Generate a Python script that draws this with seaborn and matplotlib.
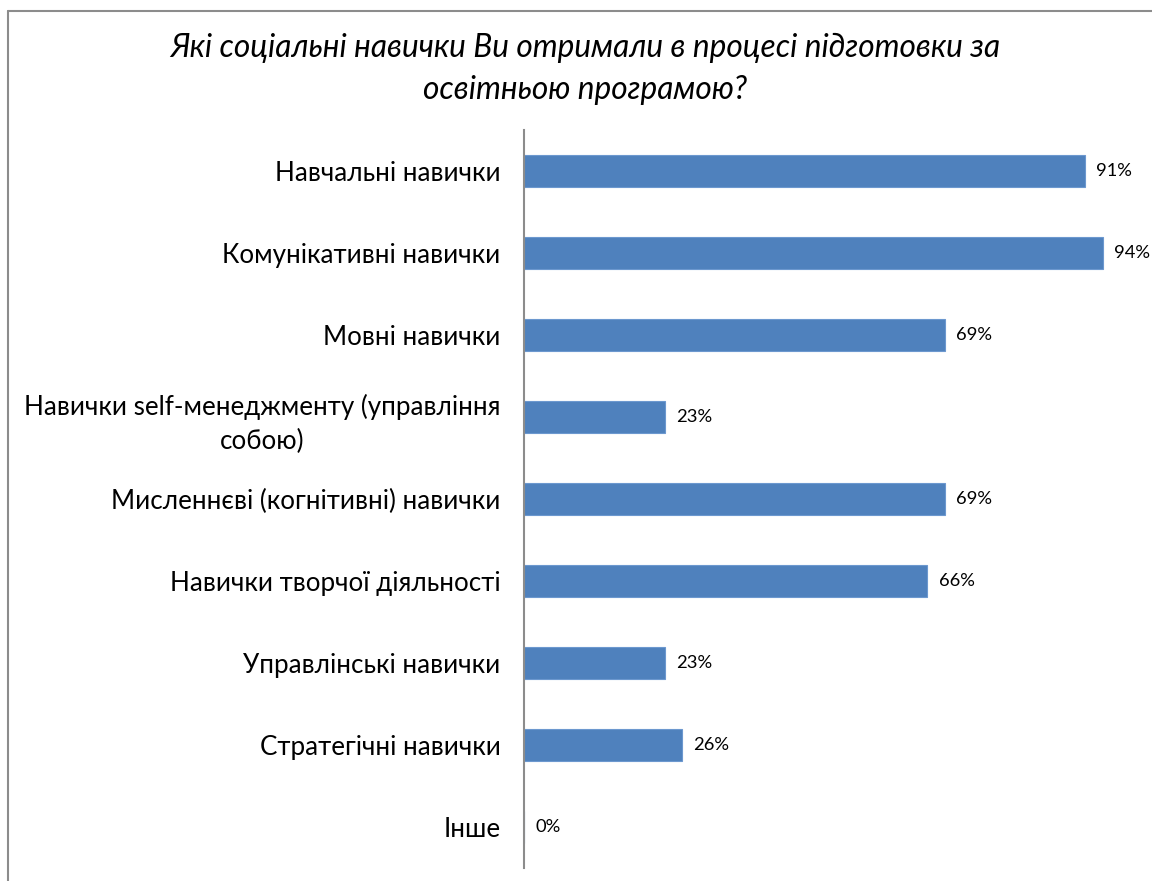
import matplotlib
matplotlib.use('Agg')
import matplotlib.pyplot as plt
from matplotlib.lines import Line2D
import seaborn as sns
import pandas as pd

categories = [
    "Навчальні навички",
    "Комунікативні навички",
    "Мовні навички",
    "Навички self-менеджменту (управління\nсобою)",
    "Мисленнєві (когнітивні) навички",
    "Навички творчої діяльності",
    "Управлінські навички",
    "Стратегічні навички",
    "Інше",
]
values = [91.4, 94.3, 68.6, 22.9, 68.6, 65.7, 22.9, 25.7, 0.0]
value_labels = ["91%", "94%", "69%", "23%", "69%", "66%", "23%", "26%", "0%"]
title = "Які соціальні навички Ви отримали в процесі підготовки за\nосвітньою програмою?"

sns.set_theme(style="white")
plt.rcParams['font.family'] = ['Lato', 'DejaVu Sans']

W, H = 1152, 881
fig = plt.figure(figsize=(W / 100, H / 100), dpi=100)
fig.patch.set_facecolor('white')
ax = fig.add_axes([524 / W, 1 - 868 / H, 614 / W, (868 - 130) / H])

df = pd.DataFrame({"cat": categories, "val": values})
sns.barplot(data=df, x="val", y="cat", orient="h", color="#4F81BD",
            saturation=1, width=0.4, ax=ax, linewidth=0.8, edgecolor="#6c98cf")

ax.set_xlim(0, 100)
ax.set_ylim(8.5, -0.5)
ax.set_xlabel("")
ax.set_ylabel("")
ax.xaxis.set_visible(False)
for s in ["top", "right", "bottom"]:
    ax.spines[s].set_visible(False)
ax.spines["left"].set_color("#8c8c8c")
ax.spines["left"].set_linewidth(1.5)
ax.spines["left"].set_zorder(5)
ax.tick_params(axis="y", length=0, pad=17, labelsize=18.7, colors="black")
for lab in ax.get_yticklabels():
    lab.set_multialignment("center")
    lab.set_linespacing(1.45)

ax.bar_label(ax.containers[0], labels=value_labels, padding=8, fontsize=13.2, color="black")

fig.text(585 / W, 1 - 69 / H, title, ha="center", va="center",
         style="italic", fontsize=22.8, linespacing=1.48, color="black")

fig.add_artist(Line2D([8 / W, 8 / W], [0, 1 - 11 / H], transform=fig.transFigure,
                      color="#8c8c8c", lw=1.5))
fig.add_artist(Line2D([8 / W, 1], [1 - 11 / H, 1 - 11 / H], transform=fig.transFigure,
                      color="#8c8c8c", lw=1.5))

fig.savefig("out.png", dpi=100)
